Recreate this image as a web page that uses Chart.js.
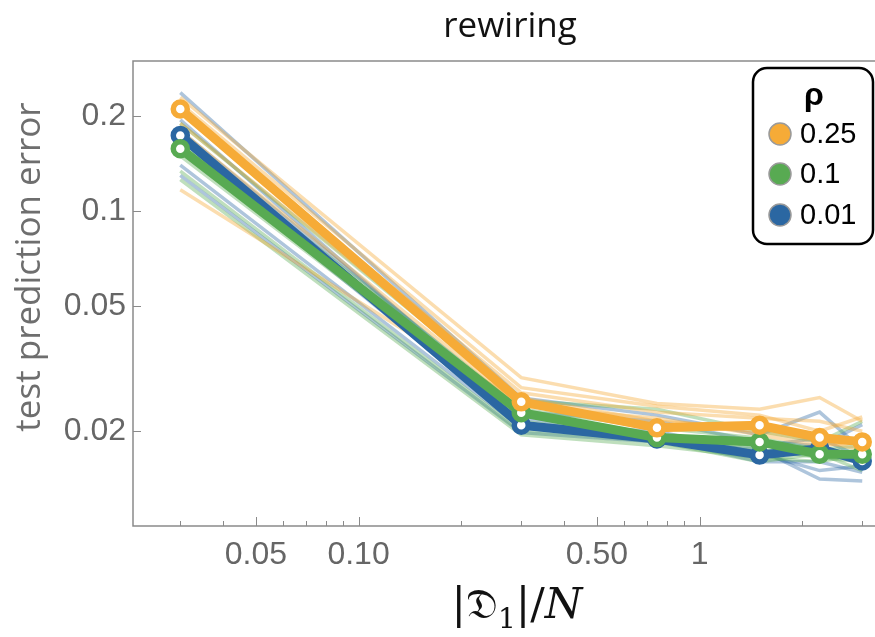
<!DOCTYPE html>
<html>
<head>
<meta charset="utf-8">
<script src="https://cdn.jsdelivr.net/npm/chart.js@4.4.0/dist/chart.umd.min.js"></script>
<style>
  html, body { margin: 0; padding: 0; background: #fff; }
  canvas { display: block; }
</style>
</head>
<body>
<canvas id="chart" width="875" height="637"></canvas>
<script>
// sample sizes |D1|/N
const xValues = [0.03, 0.3, 0.75, 1.5, 2.25, 3];

// mean curves per rho
const rhoLabels = ['0.25', '0.1', '0.01'];
const meanOrange = [0.211, 0.0248, 0.0205, 0.0209, 0.0191, 0.0185];
const meanGreen = [0.158, 0.0229, 0.0191, 0.0185, 0.0169, 0.0169];
const meanBlue = [0.174, 0.0209, 0.0189, 0.0168, 0.0176, 0.0161];

// individual runs (faint lines)
const runsOrange = [
    [0.230, 0.0296, 0.0245, 0.0235, 0.0256, 0.0215],
    [0.220, 0.0275, 0.0240, 0.0225, 0.0200, 0.0222],
    [0.205, 0.0265, 0.0230, 0.0220, 0.0215, 0.0200],
    [0.190, 0.0255, 0.0215, 0.0205, 0.0190, 0.0190],
    [0.180, 0.0240, 0.0220, 0.0195, 0.0180, 0.0185],
    [0.117, 0.0245, 0.0210, 0.0200, 0.0185, 0.0175]
];
const runsGreen = [
    [0.190, 0.0250, 0.0235, 0.0200, 0.0185, 0.0215],
    [0.170, 0.0235, 0.0205, 0.0190, 0.0175, 0.0180],
    [0.165, 0.0215, 0.0190, 0.0180, 0.0178, 0.0165],
    [0.150, 0.0225, 0.0195, 0.0175, 0.0165, 0.0160],
    [0.134, 0.0200, 0.0185, 0.0160, 0.0170, 0.0150],
    [0.126, 0.0195, 0.0180, 0.0165, 0.0160, 0.0170]
];
const runsBlue = [
    [0.238, 0.0255, 0.0225, 0.0195, 0.0230, 0.0175],
    [0.195, 0.0220, 0.0195, 0.0180, 0.0190, 0.0165],
    [0.180, 0.0230, 0.0215, 0.0185, 0.0180, 0.0210],
    [0.160, 0.0210, 0.0200, 0.0170, 0.0150, 0.0155],
    [0.140, 0.0205, 0.0190, 0.0160, 0.0160, 0.0148],
    [0.130, 0.0198, 0.0185, 0.0175, 0.0141, 0.0139]
];

const xTickValues = [0.05, 0.1, 0.5, 1];
const xTickLabels = ['0.05', '0.10', '0.50', '1'];
const xMinorTicks = [0.03, 0.04, 0.06, 0.07, 0.08, 0.09, 0.2, 0.3, 0.4, 0.6, 0.7, 0.8, 0.9, 2, 3];
const yTickValues = [0.02, 0.05, 0.1, 0.2];
const yTickLabels = ['0.02', '0.05', '0.1', '0.2'];

const orange = '#F6AB37';
const green = '#58AA52';
const blue = '#2B67A2';
const faintOrange = 'rgba(246, 171, 55, 0.4)';
const faintGreen = 'rgba(88, 170, 82, 0.38)';
const faintBlue = 'rgba(43, 103, 162, 0.38)';

function toPoints(values) {
    return values.map((v, i) => ({ x: xValues[i], y: v }));
}

function meanDataset(values, color) {
    return {
        data: toPoints(values),
        borderColor: color,
        borderWidth: 9,
        pointRadius: 7,
        pointBorderWidth: 5.5,
        pointBackgroundColor: '#fff',
        pointBorderColor: color,
        tension: 0
    };
}

function runDataset(values, color) {
    return {
        data: toPoints(values),
        borderColor: color,
        borderWidth: 3.5,
        pointRadius: 0,
        tension: 0
    };
}

const datasets = [
    meanDataset(meanOrange, orange),
    meanDataset(meanGreen, green),
    meanDataset(meanBlue, blue),
    ...runsOrange.map(r => runDataset(r, faintOrange)),
    ...runsGreen.map(r => runDataset(r, faintGreen)),
    ...runsBlue.map(r => runDataset(r, faintBlue))
];

// frame with inward ticks, like the original plot
const framePlugin = {
    id: 'frame',
    afterDraw(chart) {
        const { ctx, chartArea: a, scales: { x, y } } = chart;
        ctx.save();
        ctx.strokeStyle = '#8a8a8a';
        ctx.lineWidth = 1.5;
        ctx.beginPath();
        ctx.moveTo(a.right + 2, a.top);
        ctx.lineTo(a.left, a.top);
        ctx.lineTo(a.left, a.bottom);
        ctx.lineTo(a.right + 2, a.bottom);
        ctx.stroke();
        ctx.lineWidth = 1;
        ctx.beginPath();
        xTickValues.forEach(v => {
            const px = Math.round(x.getPixelForValue(v)) + 0.5;
            ctx.moveTo(px, a.bottom);
            ctx.lineTo(px, a.bottom - 9);
        });
        xMinorTicks.forEach(v => {
            const px = Math.round(x.getPixelForValue(v)) + 0.5;
            ctx.moveTo(px, a.bottom);
            ctx.lineTo(px, a.bottom - 5);
        });
        yTickValues.forEach(v => {
            const py = Math.round(y.getPixelForValue(v)) + 0.5;
            ctx.moveTo(a.left, py);
            ctx.lineTo(a.left + 8, py);
        });
        ctx.stroke();
        ctx.restore();
    }
};

const textPlugin = {
    id: 'texts',
    afterDraw(chart) {
        const ctx = chart.ctx;
        // plot title, centred over the frame
        ctx.save();
        ctx.fillStyle = '#111';
        ctx.font = '35px "Open Sans"';
        ctx.textAlign = 'center';
        ctx.textBaseline = 'alphabetic';
        ctx.fillText('rewiring', 510, 37);
        ctx.restore();

        // y title
        ctx.save();
        ctx.translate(30, 267);
        ctx.rotate(-Math.PI / 2);
        ctx.fillStyle = '#6e6e6e';
        ctx.font = '35px "Open Sans"';
        ctx.textAlign = 'center';
        ctx.textBaseline = 'middle';
        ctx.fillText('test prediction error', 0, 0);
        ctx.restore();

        // x title |D1|/N
        ctx.save();
        ctx.fillStyle = '#111';
        ctx.textBaseline = 'alphabetic';
        const parts = [
            { t: '|', font: '43px "DejaVu Serif"', dy: 0 },
            { t: '\u{1D507}', font: '43px "DejaVu Serif"', dy: 0 },
            { t: '1', font: '28px "DejaVu Serif"', dy: 10 },
            { t: '|/', font: '43px "DejaVu Serif"', dy: 0 },
            { t: 'N', font: 'italic 43px "DejaVu Serif"', dy: 0 }
        ];
        let total = 0;
        parts.forEach(p => { ctx.font = p.font; p.w = ctx.measureText(p.t).width; total += p.w; });
        let cx = 517 - total / 2;
        parts.forEach(p => {
            ctx.font = p.font;
            ctx.fillText(p.t, cx, 618 + p.dy);
            cx += p.w;
        });
        ctx.restore();
    }
};

const legendPlugin = {
    id: 'rhoLegend',
    afterDraw(chart) {
        const ctx = chart.ctx;
        const colors = [orange, green, blue];
        ctx.save();
        ctx.beginPath();
        ctx.roundRect(753, 68, 120, 176, 14);
        ctx.fillStyle = '#fff';
        ctx.fill();
        ctx.lineWidth = 2.5;
        ctx.strokeStyle = '#000';
        ctx.stroke();

        ctx.fillStyle = '#000';
        ctx.font = 'bold 32px "Liberation Sans"';
        ctx.textAlign = 'center';
        ctx.textBaseline = 'middle';
        ctx.fillText('\u03C1', 814, 96);

        ctx.textAlign = 'left';
        ctx.font = '29px "Liberation Sans"';
        const rows = [134, 174, 215];
        rhoLabels.forEach((lab, i) => {
            ctx.beginPath();
            ctx.arc(780, rows[i], 11, 0, Math.PI * 2);
            ctx.fillStyle = colors[i];
            ctx.fill();
            ctx.lineWidth = 1.5;
            ctx.strokeStyle = '#9a9a9a';
            ctx.stroke();
            ctx.fillStyle = '#000';
            ctx.fillText(lab, 800, rows[i] + 1);
        });
        ctx.restore();
    }
};

new Chart(document.getElementById('chart'), {
    type: 'line',
    data: { datasets },
    options: {
        responsive: false,
        animation: false,
        layout: { autoPadding: false, padding: { top: 61, left: 0, right: 0, bottom: 0 } },
        plugins: {
            legend: { display: false },
            tooltip: { enabled: false },
            title: { display: false }
        },
        scales: {
            x: {
                type: 'logarithmic',
                min: 0.0218,
                max: 3.27,
                afterBuildTicks: s => { s.ticks = xTickValues.map(v => ({ value: v })); },
                afterFit: s => { s.height = 111; s.paddingLeft = 0; s.paddingRight = 0; },
                grid: { display: false, drawTicks: false },
                border: { display: false },
                ticks: {
                    callback: (v, i) => xTickLabels[i],
                    color: '#666',
                    font: { family: 'Liberation Sans', size: 32 },
                    padding: 10,
                    maxRotation: 0,
                    autoSkip: false
                }
            },
            y: {
                type: 'logarithmic',
                min: 0.01,
                max: 0.3,
                afterBuildTicks: s => { s.ticks = yTickValues.map(v => ({ value: v })); },
                afterFit: s => { s.width = 133; s.paddingTop = 0; s.paddingBottom = 0; },
                grid: { display: false, drawTicks: false },
                border: { display: false },
                ticks: {
                    callback: (v, i) => yTickLabels[i],
                    color: '#666',
                    font: { family: 'Liberation Sans', size: 32 },
                    padding: 7,
                    autoSkip: false
                }
            }
        }
    },
    plugins: [framePlugin, textPlugin, legendPlugin]
});
</script>
</body>
</html>
